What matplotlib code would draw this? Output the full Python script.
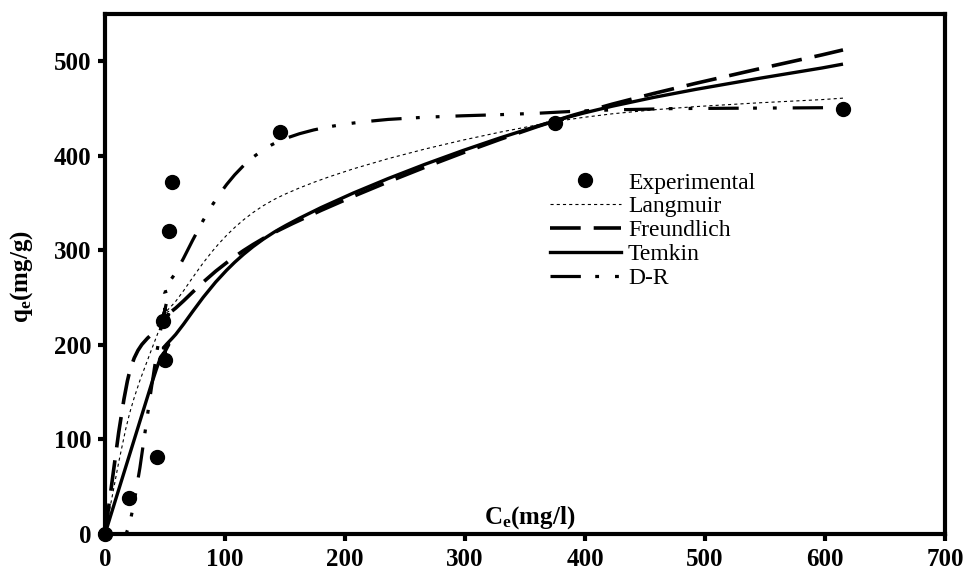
import numpy as np
import matplotlib
matplotlib.use("Agg")
import matplotlib.pyplot as plt
from matplotlib.path import Path
from matplotlib.patches import PathPatch
from matplotlib.lines import Line2D

plt.rcParams['font.family'] = ['Liberation Serif', 'DejaVu Serif']
plt.rcParams['mathtext.fontset'] = 'custom'
plt.rcParams['mathtext.rm'] = 'Liberation Serif'
plt.rcParams['mathtext.bf'] = 'Liberation Serif:bold'
plt.rcParams['mathtext.it'] = 'Liberation Serif:italic'

# ---- data ----
ce = [0, 20, 43, 50, 48, 53, 56, 146, 375, 615]
qe_exp = [0, 38, 81, 184, 225, 321, 372, 425, 435, 450]
q_langmuir = [0, 125, 209, 228, 223, 235, 242, 357, 436, 461]
q_freundlich = [0, 169, 217, 228, 224, 232, 236, 322, 437, 512]
q_temkin = [0, 82, 175, 193, 188, 200, 207, 323, 437, 497]
q_dr = [0, 9, 191, 238, 226, 255, 271, 416, 446, 451]

x_ticks = [0, 100, 200, 300, 400, 500, 600, 700]
y_ticks = [0, 100, 200, 300, 400, 500]
series_names = ["Experimental", "Langmuir", "Freundlich", "Temkin", "D-R"]


def smooth_path(xs, ys):
    pts = np.column_stack([xs, ys]).astype(float)
    n = len(pts)
    verts = [pts[0]]
    codes = [Path.MOVETO]
    for i in range(n - 1):
        p0 = pts[i - 1] if i > 0 else pts[i]
        p1 = pts[i]
        p2 = pts[i + 1]
        p3 = pts[i + 2] if i + 2 < n else pts[i + 1]
        c1 = p1 + (p2 - p0) / 6.0
        c2 = p2 - (p3 - p1) / 6.0
        verts += [c1, c2, p2]
        codes += [Path.CURVE4] * 3
    return Path(verts, codes)


fig = plt.figure(figsize=(9.68, 5.78), dpi=100)
ax = fig.add_axes([105 / 968, (578 - 534) / 578, 840 / 968, 520 / 578])
ax.set_xlim(0, 700)
ax.set_ylim(0, 550)

styles = {
    "Langmuir": dict(lw=0.8, ls=(0, (2.8, 2.8))),
    "Freundlich": dict(lw=2.6, ls=(0, (8.5, 3.6))),
    "Temkin": dict(lw=2.4, ls='solid'),
    "D-R": dict(lw=2.3, ls=(0, (9.5, 4.5, 1.2, 5.0, 1.2, 5.0))),
}
model_data = {
    "Langmuir": q_langmuir,
    "Freundlich": q_freundlich,
    "Temkin": q_temkin,
    "D-R": q_dr,
}
for name, q in model_data.items():
    st = styles[name]
    patch = PathPatch(smooth_path(ce, q), fill=False, edgecolor='black',
                      lw=st['lw'], linestyle=st['ls'], capstyle='butt',
                      joinstyle='round', transform=ax.transData, zorder=3)
    ax.add_patch(patch)

ax.plot(ce, qe_exp, 'o', color='black', ms=10, ls='none', zorder=5, clip_on=False)

# axes styling
for sp in ax.spines.values():
    sp.set_linewidth(3)
ax.set_xticks(x_ticks)
ax.set_yticks(y_ticks)
ax.tick_params(direction='out', length=5, width=3, labelsize=18, pad=5,
               top=False, right=False)
for lab in ax.get_xticklabels() + ax.get_yticklabels():
    lab.set_fontweight('bold')

ax.text(0.506, 0.021, r"C$_{\mathbf{e}}$(mg/l)", transform=ax.transAxes,
        ha='center', va='baseline', fontsize=18, fontweight='bold')
fig.text(22 / 968, (578 - 277) / 578, r"q$_{\mathbf{e}}$(mg/g)", rotation=90,
         ha='center', va='center', fontsize=18, fontweight='bold')

handles = [
    Line2D([], [], marker='o', ms=10, ls='none', color='black'),
    Line2D([], [], color='black', lw=styles["Langmuir"]['lw'], ls=styles["Langmuir"]['ls']),
    Line2D([], [], color='black', lw=styles["Freundlich"]['lw'], ls=styles["Freundlich"]['ls']),
    Line2D([], [], color='black', lw=styles["Temkin"]['lw'], ls='solid'),
    Line2D([], [], color='black', lw=styles["D-R"]['lw'], ls=styles["D-R"]['ls']),
]
leg = fig.legend(handles, series_names, loc='upper left',
                 bbox_to_anchor=(550 / 968, (578 - 172) / 578),
                 bbox_transform=fig.transFigure, frameon=False,
                 fontsize=17, handlelength=3.0, handletextpad=0.3,
                 labelspacing=0.1, borderpad=0, borderaxespad=0)

fig.savefig("out.png", dpi=100)
